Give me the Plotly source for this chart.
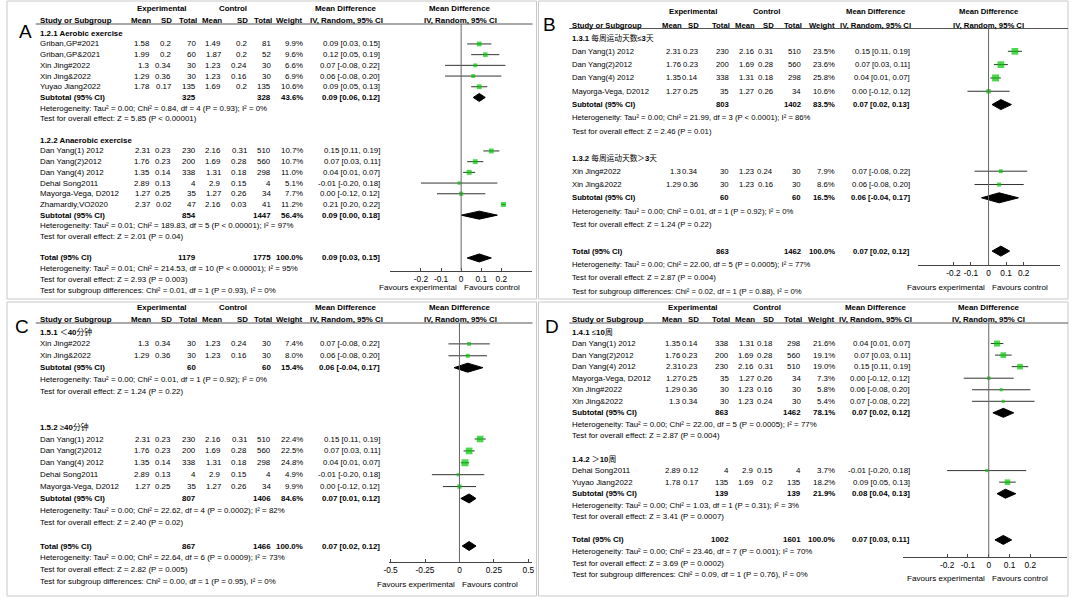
import re
import math
import plotly.graph_objects as go

# ======================= DATA =======================
# ---- Panel A ----
A1_title = "1.2.1 Aerobic exercise"
A1_study = ["Griban,GP#2021", "Griban,GP&2021", "Xin Jing#2022", "Xin Jing&2022", "Yuyao Jiang2022"]
A1_e_mean = [1.58, 1.99, 1.3, 1.29, 1.78]
A1_e_sd = [0.2, 0.2, 0.34, 0.36, 0.17]
A1_e_n = [70, 60, 30, 30, 135]
A1_c_mean = [1.49, 1.87, 1.23, 1.23, 1.69]
A1_c_sd = [0.2, 0.2, 0.24, 0.16, 0.2]
A1_c_n = [81, 52, 30, 30, 135]
A1_w = [9.9, 9.6, 6.6, 6.9, 10.6]
A1_md = [0.09, 0.12, 0.07, 0.06, 0.09]
A1_lo = [0.03, 0.05, -0.08, -0.08, 0.05]
A1_hi = [0.15, 0.19, 0.22, 0.20, 0.13]
A1_sub_n = [325, 328]
A1_sub_w = 43.6
A1_sub_md = [0.09, 0.06, 0.12]
A1_het = "Heterogeneity: Tau² = 0.00; Chi² = 0.84, df = 4 (P = 0.93); I² = 0%"
A1_z = "Test for overall effect: Z = 5.85 (P < 0.00001)"

A2_title = "1.2.2 Anaerobic exercise"
A2_study = ["Dan Yang(1) 2012", "Dan Yang(2)2012", "Dan Yang(4) 2012", "Dehai Song2011", "Mayorga-Vega, D2012", "Zhamardiy,VO2020"]
A2_e_mean = [2.31, 1.76, 1.35, 2.89, 1.27, 2.37]
A2_e_sd = [0.23, 0.23, 0.14, 0.13, 0.25, 0.02]
A2_e_n = [230, 200, 338, 4, 35, 47]
A2_c_mean = [2.16, 1.69, 1.31, 2.9, 1.27, 2.16]
A2_c_sd = [0.31, 0.28, 0.18, 0.15, 0.26, 0.03]
A2_c_n = [510, 560, 298, 4, 34, 41]
A2_w = [10.7, 10.7, 11.0, 5.1, 7.7, 11.2]
A2_md = [0.15, 0.07, 0.04, -0.01, 0.00, 0.21]
A2_lo = [0.11, 0.03, 0.01, -0.20, -0.12, 0.20]
A2_hi = [0.19, 0.11, 0.07, 0.18, 0.12, 0.22]
A2_sub_n = [854, 1447]
A2_sub_w = 56.4
A2_sub_md = [0.09, 0.00, 0.18]
A2_het = "Heterogeneity: Tau² = 0.01; Chi² = 189.83, df = 5 (P < 0.00001); I² = 97%"
A2_z = "Test for overall effect: Z = 2.01 (P = 0.04)"

A_tot_n = [1179, 1775]
A_tot_w = 100.0
A_tot_md = [0.09, 0.03, 0.15]
A_tot_het = "Heterogeneity: Tau² = 0.01; Chi² = 214.53, df = 10 (P < 0.00001); I² = 95%"
A_tot_z = "Test for overall effect: Z = 2.93 (P = 0.003)"
A_subgrp = "Test for subgroup differences: Chi² = 0.01, df = 1 (P = 0.93), I² = 0%"
A_ticks = [-0.2, -0.1, 0, 0.1, 0.2]
A_ticktext = ["-0.2", "-0.1", "0", "0.1", "0.2"]

# ---- Panel B ----
B1_title = "1.3.1 每周运动天数≤3天"
B1_study = ["Dan Yang(1) 2012", "Dan Yang(2)2012", "Dan Yang(4) 2012", "Mayorga-Vega, D2012"]
B1_e_mean = [2.31, 1.76, 1.35, 1.27]
B1_e_sd = [0.23, 0.23, 0.14, 0.25]
B1_e_n = [230, 200, 338, 35]
B1_c_mean = [2.16, 1.69, 1.31, 1.27]
B1_c_sd = [0.31, 0.28, 0.18, 0.26]
B1_c_n = [510, 560, 298, 34]
B1_w = [23.5, 23.6, 25.8, 10.6]
B1_md = [0.15, 0.07, 0.04, 0.00]
B1_lo = [0.11, 0.03, 0.01, -0.12]
B1_hi = [0.19, 0.11, 0.07, 0.12]
B1_sub_n = [803, 1402]
B1_sub_w = 83.5
B1_sub_md = [0.07, 0.02, 0.13]
B1_het = "Heterogeneity: Tau² = 0.00; Chi² = 21.99, df = 3 (P < 0.0001); I² = 86%"
B1_z = "Test for overall effect: Z = 2.46 (P = 0.01)"

B2_title = "1.3.2 每周运动天数＞3天"
B2_study = ["Xin Jing#2022", "Xin Jing&2022"]
B2_e_mean = [1.3, 1.29]
B2_e_sd = [0.34, 0.36]
B2_e_n = [30, 30]
B2_c_mean = [1.23, 1.23]
B2_c_sd = [0.24, 0.16]
B2_c_n = [30, 30]
B2_w = [7.9, 8.6]
B2_md = [0.07, 0.06]
B2_lo = [-0.08, -0.08]
B2_hi = [0.22, 0.20]
B2_sub_n = [60, 60]
B2_sub_w = 16.5
B2_sub_md = [0.06, -0.04, 0.17]
B2_het = "Heterogeneity: Tau² = 0.00; Chi² = 0.01, df = 1 (P = 0.92); I² = 0%"
B2_z = "Test for overall effect: Z = 1.24 (P = 0.22)"

B_tot_n = [863, 1462]
B_tot_w = 100.0
B_tot_md = [0.07, 0.02, 0.12]
B_tot_het = "Heterogeneity: Tau² = 0.00; Chi² = 22.00, df = 5 (P = 0.0005); I² = 77%"
B_tot_z = "Test for overall effect: Z = 2.87 (P = 0.004)"
B_subgrp = "Test for subgroup differences: Chi² = 0.02, df = 1 (P = 0.88), I² = 0%"
B_ticks = [-0.2, -0.1, 0, 0.1, 0.2]
B_ticktext = ["-0.2", "-0.1", "0", "0.1", "0.2"]

# ---- Panel C ----
C1_title = "1.5.1 ＜40分钟"
C1_study = ["Xin Jing#2022", "Xin Jing&2022"]
C1_e_mean = [1.3, 1.29]
C1_e_sd = [0.34, 0.36]
C1_e_n = [30, 30]
C1_c_mean = [1.23, 1.23]
C1_c_sd = [0.24, 0.16]
C1_c_n = [30, 30]
C1_w = [7.4, 8.0]
C1_md = [0.07, 0.06]
C1_lo = [-0.08, -0.08]
C1_hi = [0.22, 0.20]
C1_sub_n = [60, 60]
C1_sub_w = 15.4
C1_sub_md = [0.06, -0.04, 0.17]
C1_het = "Heterogeneity: Tau² = 0.00; Chi² = 0.01, df = 1 (P = 0.92); I² = 0%"
C1_z = "Test for overall effect: Z = 1.24 (P = 0.22)"

C2_title = "1.5.2 ≥40分钟"
C2_study = ["Dan Yang(1) 2012", "Dan Yang(2)2012", "Dan Yang(4) 2012", "Dehai Song2011", "Mayorga-Vega, D2012"]
C2_e_mean = [2.31, 1.76, 1.35, 2.89, 1.27]
C2_e_sd = [0.23, 0.23, 0.14, 0.13, 0.25]
C2_e_n = [230, 200, 338, 4, 35]
C2_c_mean = [2.16, 1.69, 1.31, 2.9, 1.27]
C2_c_sd = [0.31, 0.28, 0.18, 0.15, 0.26]
C2_c_n = [510, 560, 298, 4, 34]
C2_w = [22.4, 22.5, 24.8, 4.9, 9.9]
C2_md = [0.15, 0.07, 0.04, -0.01, 0.00]
C2_lo = [0.11, 0.03, 0.01, -0.20, -0.12]
C2_hi = [0.19, 0.11, 0.07, 0.18, 0.12]
C2_sub_n = [807, 1406]
C2_sub_w = 84.6
C2_sub_md = [0.07, 0.01, 0.12]
C2_het = "Heterogeneity: Tau² = 0.00; Chi² = 22.62, df = 4 (P = 0.0002); I² = 82%"
C2_z = "Test for overall effect: Z = 2.40 (P = 0.02)"

C_tot_n = [867, 1466]
C_tot_w = 100.0
C_tot_md = [0.07, 0.02, 0.12]
C_tot_het = "Heterogeneity: Tau² = 0.00; Chi² = 22.64, df = 6 (P = 0.0009); I² = 73%"
C_tot_z = "Test for overall effect: Z = 2.82 (P = 0.005)"
C_subgrp = "Test for subgroup differences: Chi² = 0.00, df = 1 (P = 0.95), I² = 0%"
C_ticks = [-0.5, -0.25, 0, 0.25, 0.5]
C_ticktext = ["-0.5", "-0.25", "0", "0.25", "0.5"]

# ---- Panel D ----
D1_title = "1.4.1 ≤10周"
D1_study = ["Dan Yang(1) 2012", "Dan Yang(2)2012", "Dan Yang(4) 2012", "Mayorga-Vega, D2012", "Xin Jing#2022", "Xin Jing&2022"]
D1_e_mean = [1.35, 1.76, 2.31, 1.27, 1.29, 1.3]
D1_e_sd = [0.14, 0.23, 0.23, 0.25, 0.36, 0.34]
D1_e_n = [338, 200, 230, 35, 30, 30]
D1_c_mean = [1.31, 1.69, 2.16, 1.27, 1.23, 1.23]
D1_c_sd = [0.18, 0.28, 0.31, 0.26, 0.16, 0.24]
D1_c_n = [298, 560, 510, 34, 30, 30]
D1_w = [21.6, 19.1, 19.0, 7.3, 5.8, 5.4]
D1_md = [0.04, 0.07, 0.15, 0.00, 0.06, 0.07]
D1_lo = [0.01, 0.03, 0.11, -0.12, -0.08, -0.08]
D1_hi = [0.07, 0.11, 0.19, 0.12, 0.20, 0.22]
D1_sub_n = [863, 1462]
D1_sub_w = 78.1
D1_sub_md = [0.07, 0.02, 0.12]
D1_het = "Heterogeneity: Tau² = 0.00; Chi² = 22.00, df = 5 (P = 0.0005); I² = 77%"
D1_z = "Test for overall effect: Z = 2.87 (P = 0.004)"

D2_title = "1.4.2 ＞10周"
D2_study = ["Dehai Song2011", "Yuyao Jiang2022"]
D2_e_mean = [2.89, 1.78]
D2_e_sd = [0.12, 0.17]
D2_e_n = [4, 135]
D2_c_mean = [2.9, 1.69]
D2_c_sd = [0.15, 0.2]
D2_c_n = [4, 135]
D2_w = [3.7, 18.2]
D2_md = [-0.01, 0.09]
D2_lo = [-0.20, 0.05]
D2_hi = [0.18, 0.13]
D2_sub_n = [139, 139]
D2_sub_w = 21.9
D2_sub_md = [0.08, 0.04, 0.13]
D2_het = "Heterogeneity: Tau² = 0.00; Chi² = 1.03, df = 1 (P = 0.31); I² = 3%"
D2_z = "Test for overall effect: Z = 3.41 (P = 0.0007)"

D_tot_n = [1002, 1601]
D_tot_w = 100.0
D_tot_md = [0.07, 0.03, 0.11]
D_tot_het = "Heterogeneity: Tau² = 0.00; Chi² = 23.46, df = 7 (P = 0.001); I² = 70%"
D_tot_z = "Test for overall effect: Z = 3.69 (P = 0.0002)"
D_subgrp = "Test for subgroup differences: Chi² = 0.09, df = 1 (P = 0.76), I² = 0%"
D_ticks = [-0.2, -0.1, 0, 0.1, 0.2]
D_ticktext = ["-0.2", "-0.1", "0", "0.1", "0.2"]

# ======================= LAYOUT (pixels) =======================
W, H = 1072, 597
FONT = "Liberation Sans, Arial, Noto Sans CJK SC, sans-serif"
LETTER_FONT = "Liberation Sans, Arial, sans-serif"
GREEN = "#00c800"

LAY_A = dict(letter="A", lx=19.5, ly=31, box=(1, 1, 535, 299), h1=8.5, h2=20.5, line_y=24, line_x=(30, 531),
             row0=33.25, step=10.7, blank_mid=1, blank_tot=1,
             cs=33, cols=[146, 167, 193, 218, 244, 268], cw=301, cci=378,
             hexp=157, hctl=229, hmd=343, hfor=458, fx=(387, 530), fr=(-0.355, 0.35),
             axis_y=270.7, fav_y=287, fs=7.9, sq=1.5, dia=4.0)
LAY_B = dict(letter="B", lx=548.5, ly=24, box=(537, 1, 1071, 299), h1=11.5, h2=25, line_y=28.5, line_x=(568, 1071),
             row0=38.0, step=13.32, blank_mid=1, blank_tot=1,
             cs=570, cols=[682, 699, 730, 755, 775, 803], cw=837, cci=913,
             hexp=693, hctl=767, hmd=877, hfor=991, fx=(920, 1063), fr=(-0.40, 0.407),
             axis_y=265, fav_y=287, fs=7.7, sq=1.38, dia=5.0)
LAY_C = dict(letter="C", lx=16.5, ly=326, box=(1, 302, 535, 596), h1=307, h2=319.3, line_y=323, line_x=(30, 531),
             row0=332, step=11.89, blank_mid=2, blank_tot=1,
             cs=33, cols=[146, 167, 193, 218, 244, 268], cw=301, cci=378,
             hexp=157, hctl=229, hmd=343, hfor=458, fx=(386.7, 530), fr=(-0.508, 0.523),
             axis_y=562.3, fav_y=584, fs=7.9, sq=1.4, dia=4.5)
LAY_D = dict(letter="D", lx=551, ly=326, box=(537, 302, 1071, 596), h1=307, h2=319.3, line_y=323, line_x=(568, 1071),
             row0=332, step=11.55, blank_mid=1, blank_tot=1,
             cs=570, cols=[682, 699, 730, 755, 775, 803], cw=837, cci=913,
             hexp=693, hctl=767, hmd=877, hfor=991, fx=(905, 1070), fr=(-0.41, 0.376),
             axis_y=557, fav_y=578, fs=7.9, sq=1.3, dia=4.5)

PANELS = [
    (LAY_A, [(A1_title, A1_study, A1_e_mean, A1_e_sd, A1_e_n, A1_c_mean, A1_c_sd, A1_c_n, A1_w, A1_md, A1_lo, A1_hi, A1_sub_n, A1_sub_w, A1_sub_md, A1_het, A1_z),
             (A2_title, A2_study, A2_e_mean, A2_e_sd, A2_e_n, A2_c_mean, A2_c_sd, A2_c_n, A2_w, A2_md, A2_lo, A2_hi, A2_sub_n, A2_sub_w, A2_sub_md, A2_het, A2_z)],
     (A_tot_n, A_tot_w, A_tot_md, A_tot_het, A_tot_z, A_subgrp), (A_ticks, A_ticktext)),
    (LAY_B, [(B1_title, B1_study, B1_e_mean, B1_e_sd, B1_e_n, B1_c_mean, B1_c_sd, B1_c_n, B1_w, B1_md, B1_lo, B1_hi, B1_sub_n, B1_sub_w, B1_sub_md, B1_het, B1_z),
             (B2_title, B2_study, B2_e_mean, B2_e_sd, B2_e_n, B2_c_mean, B2_c_sd, B2_c_n, B2_w, B2_md, B2_lo, B2_hi, B2_sub_n, B2_sub_w, B2_sub_md, B2_het, B2_z)],
     (B_tot_n, B_tot_w, B_tot_md, B_tot_het, B_tot_z, B_subgrp), (B_ticks, B_ticktext)),
    (LAY_C, [(C1_title, C1_study, C1_e_mean, C1_e_sd, C1_e_n, C1_c_mean, C1_c_sd, C1_c_n, C1_w, C1_md, C1_lo, C1_hi, C1_sub_n, C1_sub_w, C1_sub_md, C1_het, C1_z),
             (C2_title, C2_study, C2_e_mean, C2_e_sd, C2_e_n, C2_c_mean, C2_c_sd, C2_c_n, C2_w, C2_md, C2_lo, C2_hi, C2_sub_n, C2_sub_w, C2_sub_md, C2_het, C2_z)],
     (C_tot_n, C_tot_w, C_tot_md, C_tot_het, C_tot_z, C_subgrp), (C_ticks, C_ticktext)),
    (LAY_D, [(D1_title, D1_study, D1_e_mean, D1_e_sd, D1_e_n, D1_c_mean, D1_c_sd, D1_c_n, D1_w, D1_md, D1_lo, D1_hi, D1_sub_n, D1_sub_w, D1_sub_md, D1_het, D1_z),
             (D2_title, D2_study, D2_e_mean, D2_e_sd, D2_e_n, D2_c_mean, D2_c_sd, D2_c_n, D2_w, D2_md, D2_lo, D2_hi, D2_sub_n, D2_sub_w, D2_sub_md, D2_het, D2_z)],
     (D_tot_n, D_tot_w, D_tot_md, D_tot_het, D_tot_z, D_subgrp), (D_ticks, D_ticktext)),
]

# ======================= BUILD =======================
def esc(s):
    return s.replace("&", "&amp;").replace("<", "&lt;").replace(">", "&gt;")

CJK_RE = re.compile(r"([\u4e00-\u9fff\uff1c\uff1e\u2264\u2265]+)")

def title_markup(s):
    out = []
    for part in CJK_RE.split(s):
        if not part:
            continue
        if CJK_RE.fullmatch(part):
            out.append(esc(part))
        else:
            out.append("<b>" + esc(part) + "</b>")
    return "".join(out)

def num(v):
    return str(v)

def ci_text(md, lo, hi):
    return f"{md:.2f} [{lo:.2f}, {hi:.2f}]"

annotations = []
shapes = []
traces = []
layout_axes = {}

def txt(x, y, text, anchor="left", size=7.9, bold=False, raw=False, family=FONT):
    t = text if raw else esc(text)
    if bold:
        t = "<b>" + t + "</b>"
    annotations.append(dict(x=x, y=y, xref="x", yref="y", text=t, showarrow=False,
                            xanchor=anchor, yanchor="middle", borderpad=0,
                            font=dict(family=family, size=size, color="black")))

for k, (L, groups, tot, tk) in enumerate(PANELS):
    ax = k + 2
    xname, yname = f"x{ax}", f"y{ax}"
    fs = L["fs"]
    bx0, by0, bx1, by1 = L["box"]
    shapes.append(dict(type="rect", xref="x", yref="y", x0=bx0, y0=by0, x1=bx1, y1=by1,
                       line=dict(color="#c8c8c8", width=1), layer="below"))
    txt(L["lx"], L["ly"], L["letter"], anchor="center", size=19, family=LETTER_FONT)
    # headers
    txt(L["hexp"], L["h1"], "Experimental", "center", fs, True)
    txt(L["hctl"], L["h1"], "Control", "center", fs, True)
    txt(L["hmd"], L["h1"], "Mean Difference", "center", fs, True)
    txt(L["hfor"], L["h1"], "Mean Difference", "center", fs, True)
    txt(L["cs"], L["h2"], "Study or Subgroup", "left", fs, True)
    for c, lab in zip(L["cols"], ["Mean", "SD", "Total", "Mean", "SD", "Total"]):
        txt(c + 1, L["h2"], lab, "right", fs, True)
    txt(L["cw"], L["h2"], "Weight", "right", fs, True)
    txt(L["hmd"], L["h2"], "IV, Random, 95% CI", "center", fs, True)
    txt(L["hfor"], L["h2"], "IV, Random, 95% CI", "center", fs, True)
    shapes.append(dict(type="line", xref="x", yref="y", x0=L["line_x"][0], x1=L["line_x"][1],
                       y0=L["line_y"], y1=L["line_y"], line=dict(color="#555555", width=1)))

    ypos = lambda r: L["row0"] + L["step"] * r
    sx, sy, slo, shi, ssz = [], [], [], [], []
    diamonds = []
    r = 0
    for gi, g in enumerate(groups):
        (title, study, em, esd, en, cm, csd, cn, w, md, lo, hi, sub_n, sub_w, sub_md, het, z) = g
        if gi > 0:
            r += L["blank_mid"]
        txt(L["cs"], ypos(r), title_markup(title), "left", fs, raw=True)
        r += 1
        for i in range(len(study)):
            y = ypos(r)
            txt(L["cs"], y, study[i], "left", fs)
            for c, v in zip(L["cols"], [em[i], esd[i], en[i], cm[i], csd[i], cn[i]]):
                txt(c, y, num(v), "right", fs)
            txt(L["cw"], y, f"{w[i]:.1f}%", "right", fs)
            txt(L["cci"], y, ci_text(md[i], lo[i], hi[i]), "right", fs)
            sx.append(md[i]); sy.append(y); slo.append(md[i] - lo[i]); shi.append(hi[i] - md[i])
            ssz.append(max(3.0, L["sq"] * math.sqrt(w[i])))
            r += 1
        y = ypos(r)
        txt(L["cs"], y, "Subtotal (95% CI)", "left", fs, True)
        txt(L["cols"][2], y, num(sub_n[0]), "right", fs, True)
        txt(L["cols"][5], y, num(sub_n[1]), "right", fs, True)
        txt(L["cw"], y, f"{sub_w:.1f}%", "right", fs, True)
        txt(L["cci"], y, ci_text(*sub_md), "right", fs, True)
        diamonds.append((sub_md, y))
        r += 1
        txt(L["cs"], ypos(r), het, "left", fs); r += 1
        txt(L["cs"], ypos(r), z, "left", fs); r += 1
    tot_n, tot_w, tot_md, tot_het, tot_z, subgrp = tot
    r += L["blank_tot"]
    y = ypos(r)
    txt(L["cs"], y, "Total (95% CI)", "left", fs, True)
    txt(L["cols"][2], y, num(tot_n[0]), "right", fs, True)
    txt(L["cols"][5], y, num(tot_n[1]), "right", fs, True)
    txt(L["cw"], y, f"{tot_w:.1f}%", "right", fs, True)
    txt(L["cci"], y, ci_text(*tot_md), "right", fs, True)
    diamonds.append((tot_md, y))
    r += 1
    txt(L["cs"], ypos(r), tot_het, "left", fs); r += 1
    txt(L["cs"], ypos(r), tot_z, "left", fs); r += 1
    txt(L["cs"], ypos(r), subgrp, "left", fs); r += 1

    # forest subplot: own axes, y in pixel units limited to the plot strip
    fx0, fx1 = L["fx"]
    fr0, fr1 = L["fr"]
    top, bot = L["line_y"], L["axis_y"]
    zero_px = fx0 + (0 - fr0) / (fr1 - fr0) * (fx1 - fx0)
    layout_axes[f"xaxis{ax}"] = dict(domain=[fx0 / W, fx1 / W], range=[fr0, fr1], anchor=yname,
                                     showline=True, linecolor="#444444",
                                     linewidth=1, ticks="inside", ticklen=3, tickcolor="#444444",
                                     tickvals=tk[0], ticktext=tk[1], showgrid=False, zeroline=False,
                                     tickfont=dict(family=FONT, size=8.3, color="black"), fixedrange=True)
    layout_axes[f"yaxis{ax}"] = dict(domain=[1 - bot / H, 1 - top / H], range=[bot, top], anchor=xname,
                                     visible=False, fixedrange=True)
    shapes.append(dict(type="line", xref=xname, yref=yname, x0=0, x1=0, y0=top, y1=bot,
                       line=dict(color="#666666", width=1)))
    txt(zero_px - 3, L["fav_y"], "Favours experimental", "right", 8.1)
    txt(zero_px + 2, L["fav_y"], "Favours control", "left", 8.1)

    traces.append(go.Scatter(x=sx, y=sy, xaxis=xname, yaxis=yname, mode="markers",
                             marker=dict(symbol="square", size=ssz, color=GREEN, line=dict(width=0)),
                             error_x=dict(type="data", symmetric=False, array=shi, arrayminus=slo,
                                          width=0, thickness=1, color="#333333"),
                             hoverinfo="skip", showlegend=False, cliponaxis=False))
    for (m, lo_, hi_), yc in diamonds:
        h = L["dia"]
        traces.append(go.Scatter(x=[lo_, m, hi_, m, lo_], y=[yc, yc - h, yc, yc + h, yc],
                                 xaxis=xname, yaxis=yname, mode="lines", fill="toself",
                                 fillcolor="black", line=dict(color="black", width=1),
                                 hoverinfo="skip", showlegend=False, cliponaxis=False))

fig = go.Figure(data=traces)
fig.update_layout(
    width=W, height=H, margin=dict(l=0, r=0, t=0, b=0),
    paper_bgcolor="white", plot_bgcolor="rgba(0,0,0,0)", showlegend=False,
    xaxis=dict(domain=[0, 1], range=[0, W], visible=False, fixedrange=True),
    yaxis=dict(domain=[0, 1], range=[H, 0], visible=False, fixedrange=True),
    annotations=annotations, shapes=shapes,
    **layout_axes,
)
fig.write_html("out.html",
               config={"displayModeBar": False, "staticPlot": True},
               post_script="document.body.style.margin='0px';document.body.style.overflow='hidden';")
